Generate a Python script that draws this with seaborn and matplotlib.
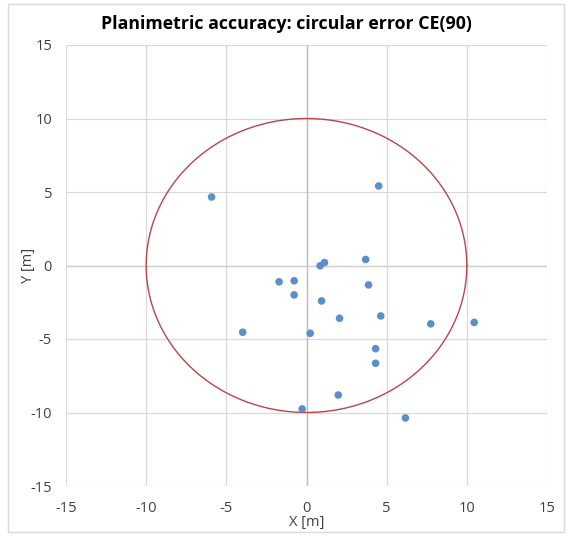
import numpy as np
import matplotlib
matplotlib.use("Agg")
import matplotlib.pyplot as plt
import seaborn as sns
import pandas as pd

# point errors
x_err = [-5.92, 4.50, 3.69, 1.12, 0.85, -1.71, -0.77, -0.77, 3.87, 0.94,
         -3.98, 0.23, 2.06, 4.63, 7.75, 10.46, 4.31, 4.31, 1.98, -0.27, 6.17]
y_err = [4.66, 5.41, 0.41, 0.20, -0.02, -1.11, -1.04, -2.00, -1.32, -2.41,
         -4.54, -4.61, -3.59, -3.43, -3.97, -3.87, -5.66, -6.65, -8.81, -9.76, -10.37]
ce90_radius = 10
ticks = [-15, -10, -5, 0, 5, 10, 15]

sns.set_style("white")
plt.rcParams['font.family'] = ['Open Sans', 'DejaVu Sans']
plt.rcParams['axes.unicode_minus'] = False

df = pd.DataFrame({'x': x_err, 'y': y_err})

fig = plt.figure(figsize=(5.72, 5.36), dpi=100)
ax = fig.add_axes([66/572, 1-486/536, (547-66)/572, (486-45)/536])

# chart border
fig.patches.append(plt.Rectangle((8/572, 4/536), (564-8)/572, (532-4)/536,
                                 transform=fig.transFigure, fill=False,
                                 edgecolor='#D9D9D9', linewidth=1))

for t in ticks:
    ax.axvline(t, color='#D9D9D9', lw=0.9, zorder=0)
    ax.axhline(t, color='#D9D9D9', lw=0.9, zorder=0)
ax.axvline(0, color='#BFBFBF', lw=1, zorder=0)
ax.axhline(0, color='#D0D0D0', lw=1, zorder=0)

theta = np.linspace(0, 2*np.pi, 400)
ax.plot(ce90_radius*np.cos(theta), ce90_radius*np.sin(theta), color='#B8454A', lw=1)

sns.scatterplot(data=df, x='x', y='y', ax=ax, color='#5B8FC9', s=30,
                edgecolor='none', zorder=3)

ax.set_xlim(-15, 15)
ax.set_ylim(-15, 15)
ax.set_xticks(ticks)
ax.set_yticks(ticks)
ax.tick_params(length=0, labelsize=10.5, labelcolor='#404040')
ax.tick_params(axis='x', pad=11)
ax.tick_params(axis='y', pad=10)
for s in ax.spines.values():
    s.set_visible(False)

ax.set_xlabel('X [m]', fontsize=10.5, color='#404040', labelpad=-1)
ax.set_ylabel('Y [m]', fontsize=10.5, color='#404040', labelpad=-4)
fig.text(0.5, 1-24/536, 'Planimetric accuracy: circular error CE(90)',
         ha='center', va='center', fontsize=12.8, fontweight='bold', color='#000000')

fig.savefig('out.png', dpi=100)
